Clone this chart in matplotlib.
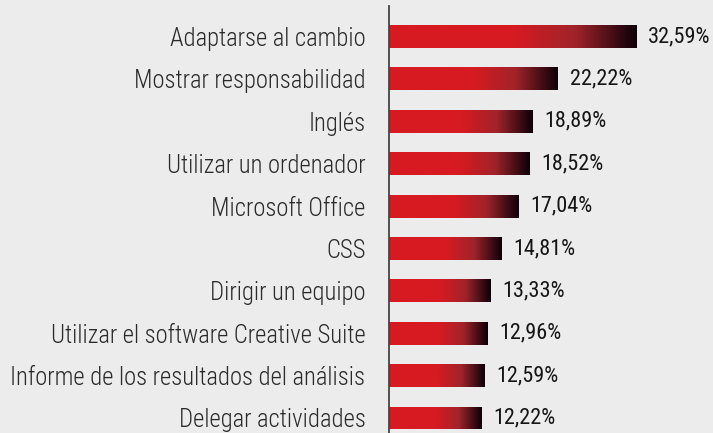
import numpy as np
import matplotlib.pyplot as plt
from matplotlib import font_manager
from matplotlib.colors import LinearSegmentedColormap

skills = ["Adaptarse al cambio", "Mostrar responsabilidad", "Inglés",
          "Utilizar un ordenador", "Microsoft Office", "CSS",
          "Dirigir un equipo", "Utilizar el software Creative Suite",
          "Informe de los resultados del análisis", "Delegar actividades"]
shares = [32.59, 22.22, 18.89, 18.52, 17.04, 14.81, 13.33, 12.96, 12.59, 12.22]
share_labels = ["32,59%", "22,22%", "18,89%", "18,52%", "17,04%",
                "14,81%", "13,33%", "12,96%", "12,59%", "12,22%"]

names = {f.name for f in font_manager.fontManager.ttflist}
FONT = "Roboto Condensed" if "Roboto Condensed" in names else "Roboto"
BG = "#ececec"

fig = plt.figure(figsize=(7.13, 4.33), dpi=100, facecolor=BG)
ax = fig.add_axes([389 / 713, 0, 324 / 713, 427 / 433], facecolor=BG)

y = np.arange(len(skills))
bars = ax.barh(y, shares, height=0.54, color="none", edgecolor="none")

# red for the first half, then fade to near black
cmap = LinearSegmentedColormap.from_list(
    "fade", [(0, "#d71a21"), (0.5, "#d71a21"), (0.75, "#a0242a"), (1, "#0c0008")])
grad = np.linspace(0, 1, 256).reshape(1, -1)
for b in bars:
    x0, y0 = b.get_x(), b.get_y()
    im = ax.imshow(grad, cmap=cmap, aspect="auto", interpolation="bicubic",
                   extent=[x0, x0 + b.get_width(), y0 + b.get_height(), y0])
    im.set_clip_path(b)

for yi, v, lab in zip(y, shares, share_labels):
    ax.text(v + 1.6, yi, lab, va="center", ha="left", fontsize=16,
            family=FONT, color="#151515")

ax.set_xlim(0, 324 / 7.58)
ax.set_ylim(9.354, -0.72)
ax.set_yticks(y)
ax.set_yticklabels(skills, family=FONT, fontsize=17.7, color="#2a2a2a",
                   fontweight="light")
ax.tick_params(axis="y", length=0, pad=17)
ax.set_xticks([])
for s in ["top", "right", "bottom"]:
    ax.spines[s].set_visible(False)
ax.spines["left"].set_color("#444444")
ax.spines["left"].set_linewidth(1.3)

fig.savefig("out.png", dpi=100, facecolor=BG)
